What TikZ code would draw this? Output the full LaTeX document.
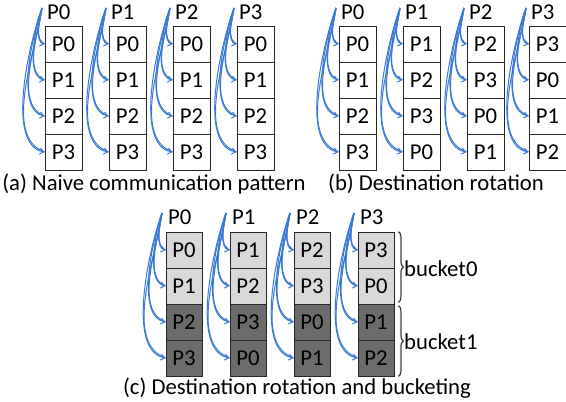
\documentclass[tikz,border=0pt]{standalone}
\usepackage{fontspec}
\setmainfont{Carlito}
\usetikzlibrary{arrows.meta,decorations.pathreplacing}

\definecolor{commblue}{RGB}{58,120,214}
\definecolor{lightcell}{RGB}{217,217,217}
\definecolor{darkcell}{RGB}{108,108,108}

\tikzset{
  cell/.style={draw=black!85, line width=0.8pt, minimum width=37pt, minimum height=36pt, inner sep=0pt},
  comm/.style={commblue, line width=1pt, -{Straight Barb[length=4pt,width=6pt]}, out=250, in=170, looseness=0.7},
  commb/.style={commblue, line width=1pt, out=262, in=160, looseness=0.8},
  plabel/.style={anchor=west, inner sep=0pt},
  bucketbrace/.style={draw=black!75, line width=1.2pt, decorate, decoration={brace, amplitude=5pt}},
}

\begin{document}
\begin{tikzpicture}[x=1pt, y=-1pt, font=\fontsize{22.7}{26}\selectfont]
\useasboundingbox (0,0) rectangle (566,402);

% (a) naive pattern
\foreach \c/\x in {0/45,1/109,2/173,3/237}{
  \node[plabel] (a\c) at (\x+2,12) {P\c};
  \coordinate (a\c src) at (\x-3,8);
  \foreach \r in {0,...,3}{
    \node[cell] (a\c-\r) at (\x+18.5,44+36*\r) {P\r};
    \draw[commb] (a\c src) to (a\c-\r.west);
    \draw[comm] (a\c src) to (a\c-\r.west);
  }
}

% (b) destination rotation
\foreach \c/\x in {0/339,1/403,2/467,3/529}{
  \node[plabel] (b\c) at (\x+2,12) {P\c};
  \coordinate (b\c src) at (\x-3,8);
  \foreach \r in {0,...,3}{
    \pgfmathtruncatemacro{\d}{mod(\c+\r,4)}
    \node[cell] (b\c-\r) at (\x+18.5,44+36*\r) {P\d};
    \draw[commb] (b\c src) to (b\c-\r.west);
    \draw[comm] (b\c src) to (b\c-\r.west);
  }
}

% (c) rotation + buckets
\foreach \c/\x in {0/166,1/230,2/294,3/358}{
  \node[plabel] (c\c) at (\x+2,217) {P\c};
  \coordinate (c\c src) at (\x-4,213);
  \foreach \r/\f in {0/lightcell,1/lightcell,2/darkcell,3/darkcell}{
    \pgfmathtruncatemacro{\d}{mod(\c+\r,4)}
    \node[cell, fill=\f, minimum width=36pt] (c\c-\r) at (\x+18,250+36*\r) {P\d};
    \draw[commb] (c\c src) to (c\c-\r.west);
    \draw[comm] (c\c src) to (c\c-\r.west);
  }
}

% buckets
\draw[bucketbrace] ([xshift=4pt]c3-0.north east) -- ([xshift=4pt,yshift=2pt]c3-1.south east);
\draw[bucketbrace] ([xshift=4pt,yshift=-2pt]c3-2.north east) -- ([xshift=4pt]c3-3.south east);
\node[plabel] (bk0) at (404,269) {bucket0};
\node[plabel] (bk1) at (404,342) {bucket1};

% captions
\node (capA) at (154,184) {(a) Naive communication pattern};
\node (capB) at (436,184) {(b) Destination rotation};
\node (capC) at (297,388) {(c) Destination rotation and bucketing};
\end{tikzpicture}
\end{document}
